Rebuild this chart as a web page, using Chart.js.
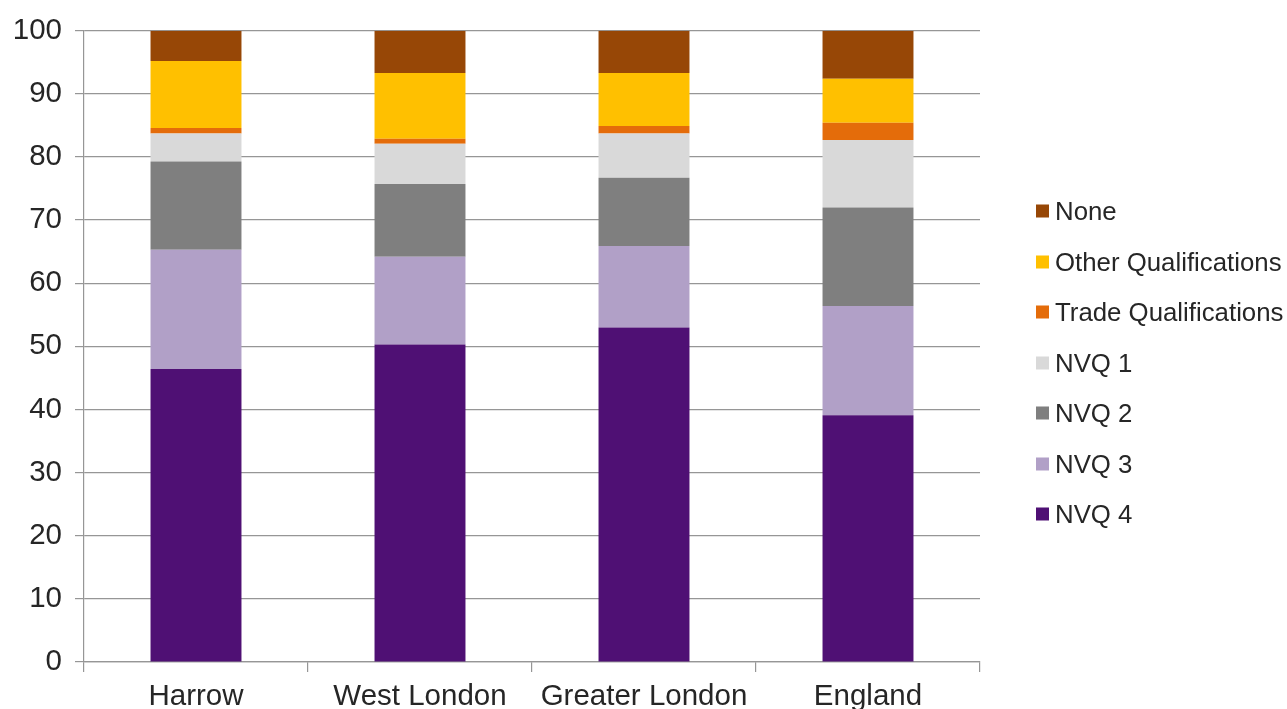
<!DOCTYPE html>
<html>
<head>
<meta charset="utf-8">
<title>Qualifications by area</title>
<script src="https://cdn.jsdelivr.net/npm/chart.js@4.4.1/dist/chart.umd.min.js"></script>
<style>
  html, body { margin: 0; padding: 0; background: #ffffff; }
  #wrap { position: relative; width: 1287px; height: 709px; overflow: hidden; }
  #legend {
    position: absolute; left: 1036px; top: 0;
    font-family: "Liberation Sans", Arial, sans-serif; font-size: 25.8px; color: #262626;
  }
  .item { position: absolute; left: 0; white-space: nowrap; display: flex; align-items: center; transform: translateY(-50%); }
  .sw { width: 13px; height: 13px; margin-right: 6px; flex: none; }
</style>
</head>
<body>
<div id="wrap">
  <canvas id="chart" width="1287" height="709"></canvas>
  <div id="legend"></div>
</div>
<script>
// Areas along the x axis
const areas = ["Harrow", "West London", "Greater London", "England"];

// Share of residents (%) by highest qualification, bottom of stack first
const nvq4  = [46.4, 50.3, 53.0, 39.1];
const nvq3  = [18.9, 13.9, 12.9, 17.3];
const nvq2  = [14.0, 11.5, 10.8, 15.6];
const nvq1  = [4.4, 6.4, 7.0, 10.7];
const trade = [0.9, 0.8, 1.2, 2.7];
const other = [10.6, 10.4, 8.4, 7.0];
const none  = [4.8, 6.7, 6.7, 7.6];

// Y axis tick range
const yTicks = { min: 0, max: 100, step: 10 };

const seriesNames  = ["NVQ 4", "NVQ 3", "NVQ 2", "NVQ 1", "Trade Qualifications", "Other Qualifications", "None"];
const seriesValues = [nvq4, nvq3, nvq2, nvq1, trade, other, none];
const seriesColors = ["#4f1074", "#b1a0c7", "#7f7f7f", "#d9d9d9", "#e46c0a", "#ffc000", "#974706"];

const datasets = seriesNames.map((name, i) => ({
  label: name,
  data: seriesValues[i],
  backgroundColor: seriesColors[i],
  borderWidth: 0,
  barPercentage: 0.406,
  categoryPercentage: 1.0
}));

const fontFamily = '"Liberation Sans", Arial, sans-serif';
const gridGray = "#969696";
const textColor = "#262626";

new Chart(document.getElementById("chart"), {
  type: "bar",
  data: { labels: areas, datasets },
  options: {
    responsive: false,
    animation: false,
    layout: { padding: { top: 30, right: 307, bottom: 0, left: 0 } },
    plugins: { legend: { display: false }, tooltip: { enabled: false } },
    scales: {
      x: {
        stacked: true,
        afterFit: (scale) => { scale.height = 47; },
        grid: {
          display: true, offset: true, drawOnChartArea: false, drawTicks: true,
          tickLength: 10, color: gridGray, lineWidth: 1.2
        },
        border: { display: true, color: gridGray, width: 1.2 },
        ticks: { font: { family: fontFamily, size: 29.5 }, color: textColor, padding: 7, maxRotation: 0 }
      },
      y: {
        stacked: true,
        min: yTicks.min,
        max: yTicks.max,
        afterFit: (scale) => { scale.width = 84; },
        grid: { color: gridGray, lineWidth: 1.2, drawTicks: true, tickLength: 9 },
        border: { display: true, color: gridGray, width: 1.2 },
        ticks: { stepSize: yTicks.step, font: { family: fontFamily, size: 29.5 }, color: textColor, padding: 13 }
      }
    }
  }
});

// Legend on the right, top entry is the top of the stack
const legend = document.getElementById("legend");
const order = seriesNames.map((_, i) => i).reverse();
order.forEach((idx, row) => {
  const item = document.createElement("div");
  item.className = "item";
  item.style.top = (211 + row * 50.5) + "px";
  const sw = document.createElement("span");
  sw.className = "sw";
  sw.style.background = seriesColors[idx];
  const txt = document.createElement("span");
  txt.textContent = seriesNames[idx];
  item.appendChild(sw);
  item.appendChild(txt);
  legend.appendChild(item);
});
</script>
</body>
</html>
